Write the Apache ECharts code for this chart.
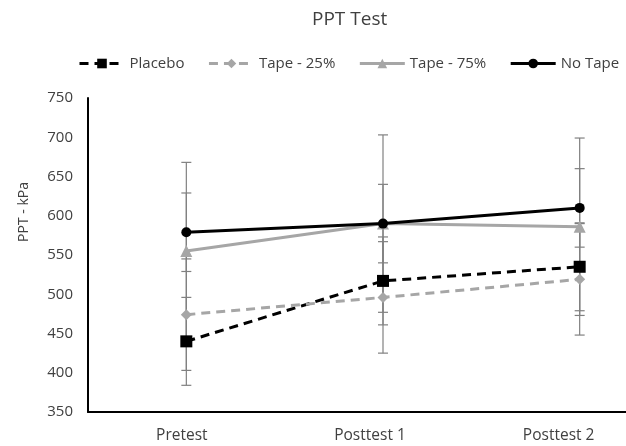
<!DOCTYPE html>
<html><head><meta charset="utf-8">
<script src="https://cdn.jsdelivr.net/npm/echarts@6/dist/echarts.min.js"></script>
<style>html,body{margin:0;padding:0;background:#fff}#c{width:626px;height:446px}</style>
</head><body><div id="c"></div>
<script>
const categories = ['Pretest', 'Posttest 1', 'Posttest 2'];
const yTicks = [350, 750, 50]; // min, max, interval
const placebo = [440, 517, 535];
const placeboErr = [56, 56, 56];
const tape25 = [474, 496, 519];
const tape25Err = [71, 71, 71];
const tape75 = [555, 590, 586];
const tape75Err = [113, 113, 113];
const noTape = [579, 590, 610];
const noTapeErr = [50, 50, 50];

const FONT = 'Open Sans';
const chart = echarts.init(document.getElementById('c'), null, {renderer: 'canvas'});

function errData(vals, errs) {
  return vals.map((v, i) => [i, v - errs[i], v + errs[i]]);
}
function errSeries(vals, errs) {
  return {
    type: 'custom',
    silent: true,
    z: 1,
    data: errData(vals, errs),
    renderItem: function (params, api) {
      const x = api.value(0);
      const lo = api.coord([x, api.value(1)]);
      const hi = api.coord([x, api.value(2)]);
      const hw = 5;
      const st = {stroke: '#808080', lineWidth: 1.2};
      return {
        type: 'group',
        children: [
          {type: 'line', shape: {x1: lo[0], y1: lo[1], x2: hi[0], y2: hi[1]}, style: st},
          {type: 'line', shape: {x1: lo[0] - hw, y1: lo[1], x2: lo[0] + hw, y2: lo[1]}, style: st},
          {type: 'line', shape: {x1: hi[0] - hw, y1: hi[1], x2: hi[0] + hw, y2: hi[1]}, style: st}
        ]
      };
    }
  };
}

const lineSeries = [
  {name: 'Placebo', data: placebo, color: '#000000', dash: [9, 6], symbol: 'rect', size: 12},
  {name: 'Tape - 25%', data: tape25, color: '#a6a6a6', dash: [9, 6], symbol: 'diamond', size: 11},
  {name: 'Tape - 75%', data: tape75, color: '#a6a6a6', dash: 'solid', symbol: 'triangle', size: 12},
  {name: 'No Tape', data: noTape, color: '#000000', dash: 'solid', symbol: 'circle', size: 10}
].map(s => ({
  name: s.name,
  type: 'line',
  data: s.data,
  z: 3,
  symbol: s.symbol,
  symbolSize: s.size,
  showAllSymbol: true,
  itemStyle: {color: s.color},
  lineStyle: {color: s.color, width: 3, type: s.dash},
  emphasis: {disabled: true}
}));

const labelShift = {'Pretest': 'a', 'Posttest 1': 'b', 'Posttest 2': 'c'};
const lblBase = {fontFamily: FONT, fontSize: 15.5, color: '#404040'};

chart.setOption({
  animation: false,
  backgroundColor: '#ffffff',
  title: {
    text: 'PPT Test',
    left: 307, top: 5,
    textStyle: {fontFamily: FONT, fontSize: 19, fontWeight: 'normal', color: '#404040'}
  },
  legend: {
    left: 73, top: 51, width: 553,
    itemWidth: 45, itemHeight: 12, itemGap: 23,
    lineStyle: {width: 3},
    textStyle: {fontFamily: FONT, fontSize: 15, color: '#404040'},
    data: ['Placebo', 'Tape - 25%', 'Tape - 75%', 'No Tape']
  },
  grid: {left: 88, top: 98, width: 590, height: 314, containLabel: false, outerBoundsMode: 'none'},
  xAxis: {
    type: 'category',
    data: categories,
    boundaryGap: true,
    axisLine: {lineStyle: {color: '#000', width: 2}},
    axisTick: {show: false},
    axisLabel: {
      margin: 16,
      formatter: v => '{' + labelShift[v] + '|' + v + '}',
      rich: {
        a: Object.assign({padding: [0, 9, 0, 0]}, lblBase),
        b: Object.assign({padding: [0, 26, 0, 0]}, lblBase),
        c: Object.assign({padding: [0, 42, 0, 0]}, lblBase)
      }
    }
  },
  yAxis: {
    type: 'value',
    min: yTicks[0], max: yTicks[1], interval: yTicks[2],
    axisLine: {show: true, lineStyle: {color: '#000', width: 2}},
    axisTick: {show: false},
    splitLine: {show: false},
    axisLabel: {fontFamily: FONT, fontSize: 15, color: '#404040', margin: 15}
  },
  graphic: [{
    type: 'text', left: 17, top: 182, rotation: Math.PI / 2,
    style: {text: 'PPT - kPa', fontFamily: FONT, fontSize: 14, fill: '#404040'}
  }],
  series: [
    errSeries(placebo, placeboErr),
    errSeries(tape25, tape25Err),
    errSeries(tape75, tape75Err),
    errSeries(noTape, noTapeErr)
  ].concat(lineSeries)
});
</script></body></html>
